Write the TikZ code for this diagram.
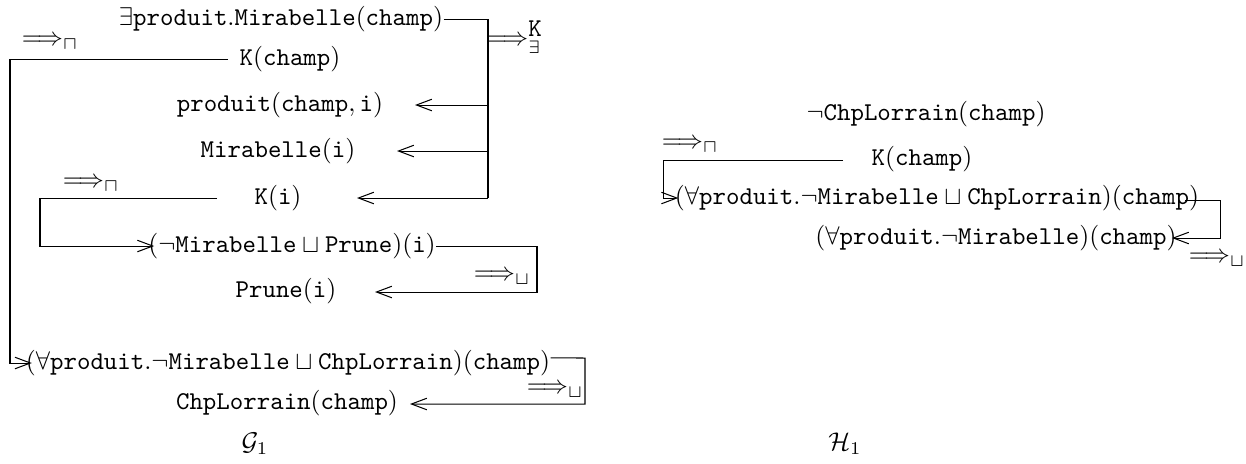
\documentclass[tikz,border=0pt]{standalone}
\usetikzlibrary{arrows.meta}
\newcommand{\tx}[1]{\texttt{#1}}
\begin{document}
\begin{tikzpicture}[x=0.39pt,y=-0.39pt,
  lbl/.style={inner sep=0pt, anchor=center},
  ln/.style={line width=0.4pt},
  arr/.style={ln,-{Straight Barb[length=6pt,width=4.5pt]}}]
\useasboundingbox (0,0) rectangle (1246,463);
% ---------- G1 ----------
\node[lbl] (e1) at (281,19) {$\exists\tx{produit}.\tx{Mirabelle}(\tx{champ})$};
\node[lbl] (kc) at (290,59) {$\tx{K}(\tx{champ})$};
\node[lbl] (pr) at (280,105) {$\tx{produit}(\tx{champ},\tx{i})$};
\node[lbl] (mi) at (278,151) {$\tx{Mirabelle}(\tx{i})$};
\node[lbl] (ki) at (278,198) {$\tx{K}(\tx{i})$};
\node[lbl] (mp) at (292,246) {$(\neg\tx{Mirabelle}\sqcup\tx{Prune})(\tx{i})$};
\node[lbl] (pi) at (286,291) {$\tx{Prune}(\tx{i})$};
\node[lbl] (fa) at (288,363) {$(\forall\tx{produit}.\neg\tx{Mirabelle}\sqcup\tx{ChpLorrain})(\tx{champ})$};
\node[lbl] (cl) at (287,403) {$\tx{ChpLorrain}(\tx{champ})$};
\node[lbl] (g1) at (255,444) {$\mathcal{G}_1$};
% rule labels
\node[lbl] (r1) at (515,37) {$\Longrightarrow^{\tx{K}}_{\exists}$};
\node[lbl] (r2) at (50,43) {$\Longrightarrow_{\sqcap}$};
\node[lbl] (r3) at (91,185) {$\Longrightarrow_{\sqcap}$};
\node[lbl] (r4) at (502,278) {$\Longrightarrow_{\sqcup}$};
\node[lbl] (r5) at (555,391) {$\Longrightarrow_{\sqcup}$};
% exists rule
\coordinate (cP) at (488,105);
\coordinate (cM) at (488,151);
\coordinate (cK) at (488,198);
\coordinate (tP) at (415,105);
\coordinate (tM) at (397,151);
\coordinate (tK) at (357,198);
\draw[ln] (e1.east) -| (cK);
\draw[arr] (cP) -- (tP);
\draw[arr] (cM) -- (tM);
\draw[arr] (cK) -- (tK);
% sqcap on K(champ)
\coordinate (s1) at (228,59);
\coordinate (c1) at (10,59);
\draw[arr] (s1) -- (c1) |- ([xshift=2.5pt]fa.west);
% sqcap on K(i)
\coordinate (s2) at (217,198);
\coordinate (c2) at (40,198);
\draw[arr] (s2) -- (c2) |- ([xshift=2.5pt]mp.west);
% sqcup on Mirabelle or Prune
\coordinate (c3) at (537,246);
\coordinate (tPr) at (375,292);
\draw[arr] (mp.east) -- (c3) |- (tPr);
% sqcup on forall
\coordinate (c4) at (585,358);
\coordinate (tCl) at (410,404);
\draw[arr] ([yshift=2pt]fa.east) -- (c4) |- (tCl);
% ---------- H1 ----------
\node[lbl] (nc) at (926,114) {$\neg\tx{ChpLorrain}(\tx{champ})$};
\node[lbl] (kc2) at (922,159) {$\tx{K}(\tx{champ})$};
\node[lbl] (fa2) at (937,198) {$(\forall\tx{produit}.\neg\tx{Mirabelle}\sqcup\tx{ChpLorrain})(\tx{champ})$};
\node[lbl] (fp) at (996,238) {$(\forall\tx{produit}.\neg\tx{Mirabelle})(\tx{champ})$};
\node[lbl] (h1) at (845,444) {$\mathcal{H}_1$};
\node[lbl] (r6) at (690,146) {$\Longrightarrow_{\sqcap}$};
\node[lbl] (r7) at (1217,260) {$\Longrightarrow_{\sqcup}$};
\coordinate (s6) at (843,160);
\coordinate (c6) at (663,160);
\draw[arr] (s6) -- (c6) |- ([xshift=1.5pt]fa2.west);
\coordinate (s7) at (1185,200);
\coordinate (c7) at (1220,200);
\draw[arr] (s7) -- (c7) |- ([xshift=-2pt]fp.east);
\end{tikzpicture}
\end{document}
